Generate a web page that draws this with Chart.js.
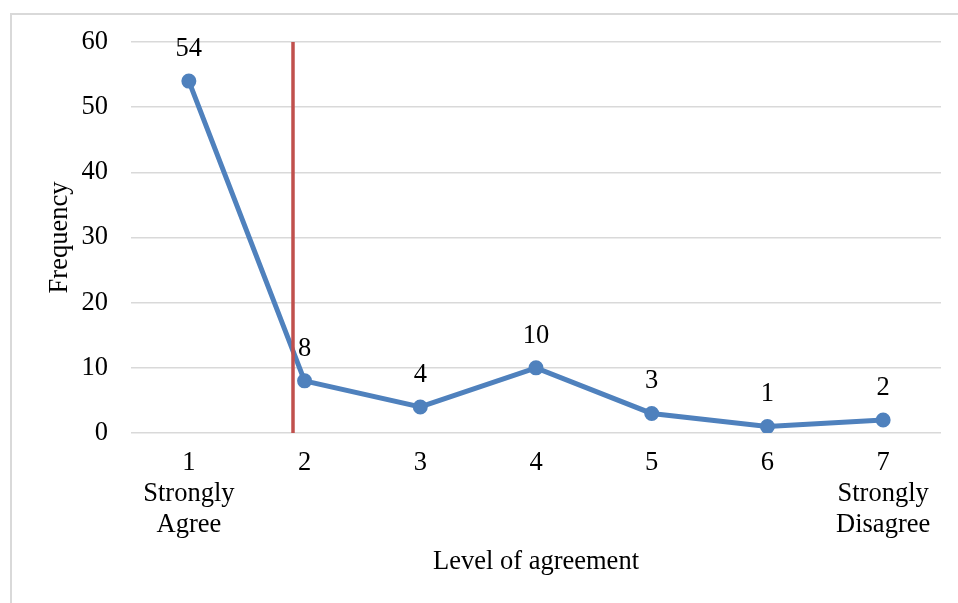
<!DOCTYPE html>
<html>
<head>
<meta charset="utf-8">
<script src="https://cdn.jsdelivr.net/npm/chart.js@4/dist/chart.umd.min.js"></script>
<style>
  html, body { margin: 0; padding: 0; background: #fff; }
  #wrap { position: relative; width: 958px; height: 603px; overflow: hidden; }
  #frame {
    position: absolute; left: 10px; top: 13px; right: -4px; bottom: -4px;
    border-left: 2px solid #d9d9d9; border-top: 2px solid #d9d9d9;
  }
  #chart { position: absolute; left: 0; top: 0; }
</style>
</head>
<body>
<div id="wrap">
  <div id="frame"></div>
  <canvas id="chart" width="958" height="603"></canvas>
</div>
<script>
// Responses per agreement level (1 = strongly agree, 7 = strongly disagree)
const levels = [1, 2, 3, 4, 5, 6, 7];
const frequencies = [54, 8, 4, 10, 3, 1, 2];
const levelNames = { 1: 'Strongly|Agree', 7: 'Strongly|Disagree' };
const yTicks = [0, 10, 20, 30, 40, 50, 60];

// Cut-off marker
const cutoffX = 1.9;
const cutoffRange = [0, 60];

const serif = "'Liberation Serif', 'Times New Roman', serif";
const fontSize = 26.5;
const textColor = '#000000';
const gridColor = '#d9d9d9';

// Writes each frequency above its point
const valueLabels = {
  id: 'valueLabels',
  afterDatasetsDraw(chart) {
    const meta = chart.getDatasetMeta(1);
    const ctx = chart.ctx;
    ctx.save();
    ctx.font = fontSize + 'px ' + serif;
    ctx.fillStyle = textColor;
    ctx.textAlign = 'center';
    ctx.textBaseline = 'middle';
    meta.data.forEach((pt, i) => {
      ctx.fillText(String(frequencies[i]), pt.x, pt.y - 32);
    });
    ctx.restore();
  }
};

new Chart(document.getElementById('chart'), {
  type: 'line',
  data: {
    datasets: [
      {
        label: 'Cut-off',
        data: cutoffRange.map(y => ({ x: cutoffX, y })),
        borderColor: '#c0504d',
        borderWidth: 3.5,
        pointRadius: 0,
        order: 0
      },
      {
        label: 'Frequency',
        data: levels.map((x, i) => ({ x, y: frequencies[i] })),
        borderColor: '#4f81bd',
        backgroundColor: '#4f81bd',
        borderWidth: 5,
        pointRadius: 6,
        pointBorderWidth: 3,
        pointBorderColor: '#4f81bd',
        tension: 0,
        order: 1
      }
    ]
  },
  options: {
    responsive: false,
    animation: false,
    layout: { padding: { top: 42, right: 17, left: 0, bottom: 0 } },
    plugins: {
      legend: { display: false },
      tooltip: { enabled: false }
    },
    scales: {
      x: {
        type: 'linear',
        min: 0.5,
        max: 7.5,
        afterBuildTicks: scale => { scale.ticks = levels.map(v => ({ value: v })); },
        afterFit: scale => { scale.height = 170; },
        grid: { display: false, drawTicks: false },
        border: { display: false },
        ticks: {
          color: textColor,
          padding: 15,
          maxRotation: 0,
          autoSkip: false,
          font: { family: serif, size: fontSize, lineHeight: 1.17 },
          callback: v => levelNames[v] ? [String(v)].concat(levelNames[v].split('|')) : String(v)
        },
        title: {
          display: true,
          text: 'Level of agreement',
          color: textColor,
          font: { family: serif, size: fontSize, lineHeight: 1.17 },
          padding: { top: 0, bottom: 25 }
        }
      },
      y: {
        min: 0,
        max: 60,
        afterBuildTicks: scale => { scale.ticks = yTicks.map(v => ({ value: v })); },
        afterFit: scale => { scale.width = 131; },
        grid: { color: gridColor, lineWidth: 1.5, drawTicks: false },
        border: { display: false },
        ticks: {
          color: textColor,
          padding: 23,
          font: { family: serif, size: fontSize }
        },
        title: {
          display: true,
          text: 'Frequency',
          color: textColor,
          font: { family: serif, size: fontSize, lineHeight: 1.17 },
          padding: { top: 45, bottom: 0 }
        }
      }
    }
  },
  plugins: [valueLabels]
});
</script>
</body>
</html>
